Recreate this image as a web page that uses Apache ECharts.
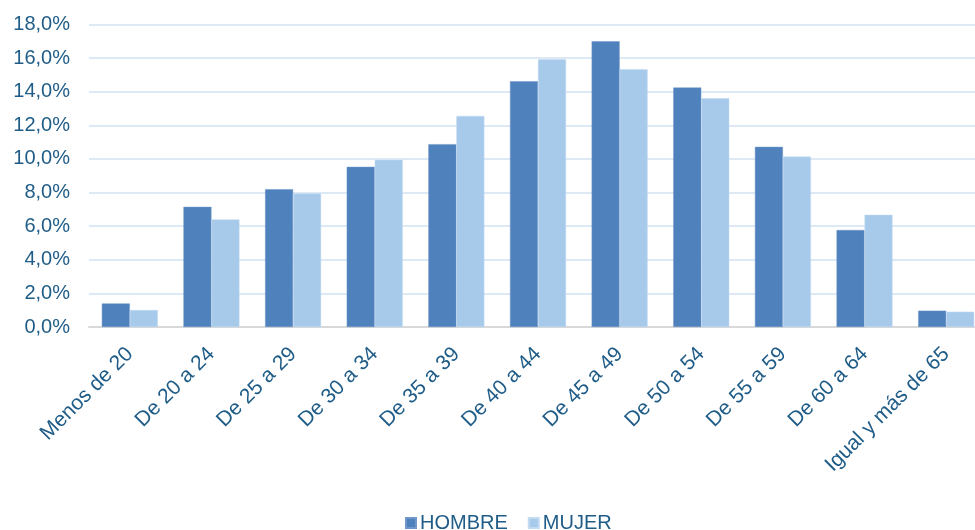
<!DOCTYPE html>
<html>
<head>
<meta charset="utf-8">
<script src="https://cdn.jsdelivr.net/npm/echarts@6/dist/echarts.min.js"></script>
<style>
  html, body { margin: 0; padding: 0; background: #fff; }
  #chart { width: 975px; height: 530px; }
</style>
</head>
<body>
<div id="chart"></div>
<script>
// tramos de edad
const categories = [
  "Menos de 20", "De 20 a 24", "De 25 a 29", "De 30 a 34", "De 35 a 39",
  "De 40 a 44", "De 45 a 49", "De 50 a 54", "De 55 a 59", "De 60 a 64",
  "Igual y más de 65"
];
// porcentajes
const hombre = [1.40, 7.15, 8.20, 9.53, 10.88, 14.62, 17.00, 14.25, 10.72, 5.77, 0.97];
const mujer = [1.01, 6.40, 7.94, 9.95, 12.56, 15.93, 15.34, 13.61, 10.14, 6.68, 0.91];
const seriesNames = ["HOMBRE", "MUJER"];

const textColor = "#1f5c87";
const font = "Liberation Sans";

const chart = echarts.init(document.getElementById("chart"));
chart.setOption({
  animation: false,
  textStyle: { fontFamily: font },
  // el área del gráfico sobrepasa un poco el borde derecho, como en el original
  grid: { left: 89, right: -12, top: 24.5, bottom: 203, outerBoundsMode: "none", containLabel: false },
  legend: {
    data: seriesNames,
    left: 400,
    top: 508,
    itemWidth: 10,
    itemHeight: 10,
    itemGap: 20,
    icon: "rect",
    textStyle: { color: textColor, fontSize: 20, fontFamily: font, padding: [0, 0, 0, -1] }
  },
  xAxis: {
    type: "category",
    data: categories,
    axisLine: { lineStyle: { color: "#d9d9d9", width: 2 } },
    axisTick: { show: false },
    axisLabel: {
      interval: 0,
      rotate: 45,
      margin: 24,
      color: textColor,
      fontSize: 21,
      fontFamily: font
    }
  },
  yAxis: {
    type: "value",
    min: 0,
    max: 18,
    interval: 2,
    axisLine: { show: false },
    axisTick: { show: false },
    axisLabel: {
      margin: 19,
      color: textColor,
      fontSize: 20,
      fontFamily: font,
      formatter: (v) => v.toFixed(1).replace(".", ",") + "%"
    },
    splitLine: { lineStyle: { color: "#dde9f5", width: 2 } }
  },
  series: [
    {
      name: seriesNames[0],
      type: "bar",
      data: hombre,
      barGap: "0%",
      barCategoryGap: "31.4%",
      itemStyle: { color: "#4f81bd", borderColor: "#6f97c9", borderWidth: 0.5 }
    },
    {
      name: seriesNames[1],
      type: "bar",
      data: mujer,
      itemStyle: { color: "#a7caeb", borderColor: "#c3dbf1", borderWidth: 0.5 }
    }
  ]
});
</script>
</body>
</html>
